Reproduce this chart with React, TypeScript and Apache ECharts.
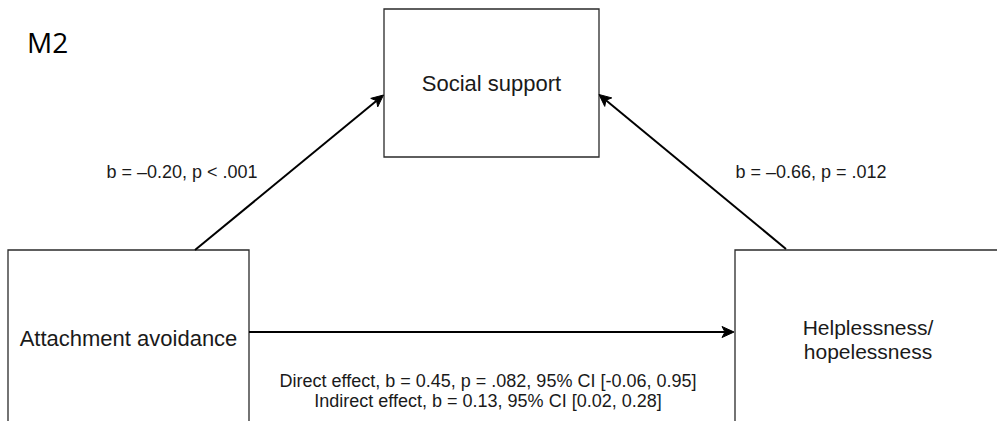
import React, { useEffect, useRef } from "react";
import * as echarts from "echarts";

// ---- content ----
const modelTitle = "M2";
const nodeLabels = ["Social support", "Attachment avoidance", "Helplessness/\nhopelessness"];
const pathLabels = ["b = \u20130.20, p < .001", "b = \u20130.66, p = .012"];
const effectLabels = [
  "Direct effect, b = 0.45, p = .082, 95% CI [-0.06, 0.95]",
  "Indirect effect, b = 0.13, 95% CI [0.02, 0.28]",
];

// ---- layout (pixels) ----
const boxes = [
  { x: 384, y: 9, w: 215, h: 148, cx: 491.5, cy: 83, fontSize: 22 },
  { x: 8, y: 250, w: 241, h: 200, cx: 128.5, cy: 338, fontSize: 22 },
  { x: 735, y: 250, w: 266, h: 200, cx: 868, cy: 339, fontSize: 21 },
];
const arrows = [
  { from: [195, 250], to: [383.5, 95] },
  { from: [786, 249], to: [599, 94.5] },
  { from: [249, 332], to: [734, 332] },
];
const pathLabelPos = [
  [182, 172],
  [811, 172],
];
const effectPos = [488, 391];

const FONT = "'Liberation Sans', Arial, Helvetica, sans-serif";

function arrowElements(from: number[], to: number[]) {
  const dx = to[0] - from[0];
  const dy = to[1] - from[1];
  const len = Math.sqrt(dx * dx + dy * dy);
  const ux = dx / len, uy = dy / len;
  const nx = -uy, ny = ux;
  const L = 12, W = 5.5, N = 3;
  const bx = to[0] - L * ux, by = to[1] - L * uy;
  const mx = to[0] - (L - N) * ux, my = to[1] - (L - N) * uy;
  return [
    {
      type: "line",
      shape: { x1: from[0], y1: from[1], x2: mx, y2: my },
      style: { stroke: "#000", lineWidth: 2 },
    },
    {
      type: "polygon",
      shape: {
        points: [
          [to[0], to[1]],
          [bx + W * nx, by + W * ny],
          [mx, my],
          [bx - W * nx, by - W * ny],
        ],
      },
      style: { fill: "#000", stroke: "#000", lineWidth: 1 },
    },
  ];
}

function textEl(text: string, x: number, y: number, fontSize: number, opts: any = {}) {
  return {
    type: "text",
    x,
    y,
    style: {
      text,
      fontSize,
      fontFamily: opts.fontFamily ?? FONT,
      fill: opts.fill ?? "#1a1a1a",
      align: opts.align ?? "center",
      textAlign: opts.align ?? "center",
      verticalAlign: "middle",
      textVerticalAlign: "middle",
      lineHeight: opts.lineHeight ?? fontSize * 1.15,
    },
  };
}

export default function App() {
  const ref = useRef<HTMLDivElement>(null);
  useEffect(() => {
    if (!ref.current) return;
    const chart = echarts.init(ref.current, undefined, { renderer: "svg" });
    const elements: any[] = [];
    boxes.forEach((b, i) => {
      elements.push({
        type: "rect",
        shape: { x: b.x, y: b.y, width: b.w, height: b.h },
        style: { fill: "#fff", stroke: "#2a2a2a", lineWidth: 1.3 },
      });
      elements.push(textEl(nodeLabels[i], b.cx, b.cy, b.fontSize, { lineHeight: 24 }));
    });
    arrows.forEach((a) => elements.push(...arrowElements(a.from, a.to)));
    pathLabels.forEach((t, i) => elements.push(textEl(t, pathLabelPos[i][0], pathLabelPos[i][1], 18)));
    elements.push(textEl(effectLabels.join("\n"), effectPos[0], effectPos[1], 18, { lineHeight: 20 }));
    elements.push(
      textEl(modelTitle, 27, 42, 28, { align: "left", fontFamily: "'Open Sans', sans-serif", fill: "#000" })
    );
    chart.setOption({
      animation: false,
      backgroundColor: "#fff",
      graphic: { elements },
    });
    return () => chart.dispose();
  }, []);
  return (
    <div
      ref={ref}
      style={{ position: "absolute", left: 0, top: 0, width: 997, height: 421 }}
    />
  );
}
